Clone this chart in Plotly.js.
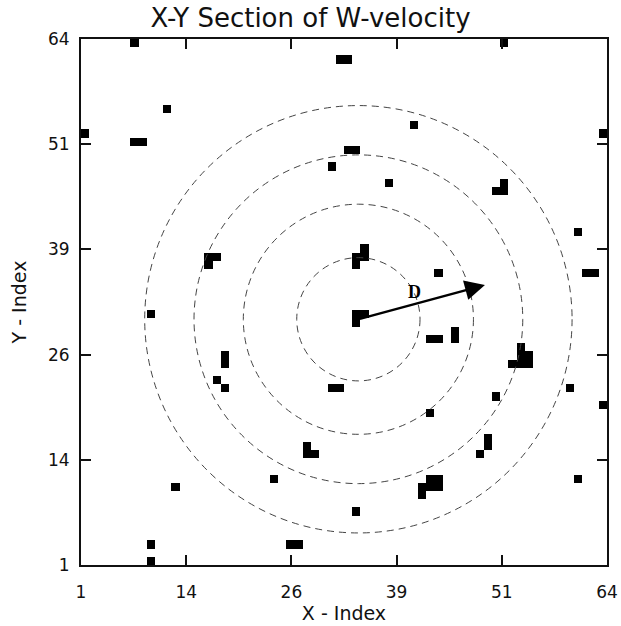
<!DOCTYPE html>
<html>
<head>
<meta charset="utf-8">
<script src="https://cdn.plot.ly/plotly-3.0.1.min.js"></script>
<style>html,body{margin:0;padding:0;background:#fff;}#chart{width:621px;height:626px;}</style>
</head>
<body>
<div id="chart"></div>
<script>
// Black cells (x-index, y-index)
const cellX = [7, 11, 1, 7, 8, 32, 33, 31, 16, 17, 16, 52, 41, 64, 33, 34, 38, 52, 51, 52, 61, 62, 63,
  35, 35, 34, 34, 44, 9, 18, 18, 17, 18, 31, 32, 28, 28, 29, 24, 12, 9, 9, 26, 27,
  34, 35, 34, 43, 44, 46, 46, 54, 54, 54, 55, 55, 53, 51, 60, 64, 43, 50, 50, 49,
  43, 44, 43, 44, 42, 42, 34, 61];
const cellY = [64, 56, 53, 52, 52, 62, 62, 49, 38, 38, 37, 64, 54, 53, 51, 51, 47, 47, 46, 46, 41, 36, 36,
  39, 38, 38, 37, 36, 31, 26, 25, 23, 22, 22, 22, 15, 14, 14, 11, 10, 3, 1, 3, 3,
  31, 31, 30, 28, 28, 29, 28, 27, 26, 25, 26, 25, 25, 21, 22, 20, 19, 16, 15, 14,
  11, 11, 10, 10, 10, 9, 7, 11];

const tickLabels = ['1', '14', '26', '39', '51', '64'];
const tickPos = [0.5, 13.3, 26.1, 38.9, 51.7, 64.5];

// Dashed circles
const circleCenter = [34.25, 30.4];
const circleRadii = [7.5, 14, 20, 26];

// Arrow D
const arrowTail = [34.25, 30.4];
const arrowTip = [49.65, 34.57];
const labelD = [41.1, 33.7];

const N = 64;
const idx = [];
for (let i = 1; i <= N; i++) idx.push(i);
const z = [];
for (let j = 0; j < N; j++) { const row = []; for (let i = 0; i < N; i++) row.push(null); z.push(row); }
for (let k = 0; k < cellX.length; k++) z[cellY[k] - 1][cellX[k] - 1] = 1;

const trace = {
  type: 'heatmap', x: idx, y: idx, z: z,
  colorscale: [[0, '#000'], [1, '#000']], showscale: false, hoverinfo: 'skip', xgap: 0, ygap: 0
};

const shapes = circleRadii.map(r => ({
  type: 'circle', xref: 'x', yref: 'y',
  x0: circleCenter[0] - r, x1: circleCenter[0] + r,
  y0: circleCenter[1] - r, y1: circleCenter[1] + r,
  line: {color: '#444', width: 1, dash: '7px,5px'}
}));

const FAM = "'DejaVu Sans ExtraLight', 'DejaVu Sans', sans-serif";
const tickFont = {family: FAM, size: 17, color: '#111'};
const axisCommon = {
  range: [0.5, 64.5], tickmode: 'array', tickvals: tickPos, ticktext: tickLabels,
  ticks: 'inside', ticklen: 10, tickwidth: 2, tickcolor: '#111',
  showline: true, linewidth: 2, linecolor: '#111', mirror: 'ticks',
  showgrid: false, zeroline: false, tickfont: tickFont, fixedrange: true
};

const layout = {
  width: 621, height: 626,
  margin: {l: 81, r: 14, t: 39, b: 61},
  paper_bgcolor: '#fff', plot_bgcolor: '#fff',
  title: {text: 'X-Y Section of W-velocity', x: 0.5, xref: 'container', y: 0.971, yref: 'container', yanchor: 'middle',
    font: {family: FAM, size: 26, color: '#111'}},
  xaxis: Object.assign({}, axisCommon, {
    ticklabelstandoff: 11,
    title: {text: 'X - Index', standoff: 3, font: {family: FAM, size: 19, color: '#111'}}
  }),
  yaxis: Object.assign({}, axisCommon, {
    ticklabelstandoff: 6,
    title: {text: 'Y - Index', standoff: 16, font: {family: FAM, size: 19, color: '#111'}}
  }),
  shapes: shapes,
  annotations: [
    {x: arrowTip[0], y: arrowTip[1], ax: arrowTail[0], ay: arrowTail[1], xref: 'x', yref: 'y', axref: 'x', ayref: 'y',
     text: '', showarrow: true, arrowhead: 2, arrowsize: 1.6, arrowwidth: 2.5, arrowcolor: '#000'},
    {x: labelD[0], y: labelD[1], xref: 'x', yref: 'y', text: '<b>D</b>', showarrow: false,
     font: {family: 'Liberation Serif, serif', size: 18, color: '#000'}}
  ],
  showlegend: false
};

Plotly.newPlot('chart', [trace], layout, {displayModeBar: false, staticPlot: true});
</script>
</body>
</html>
